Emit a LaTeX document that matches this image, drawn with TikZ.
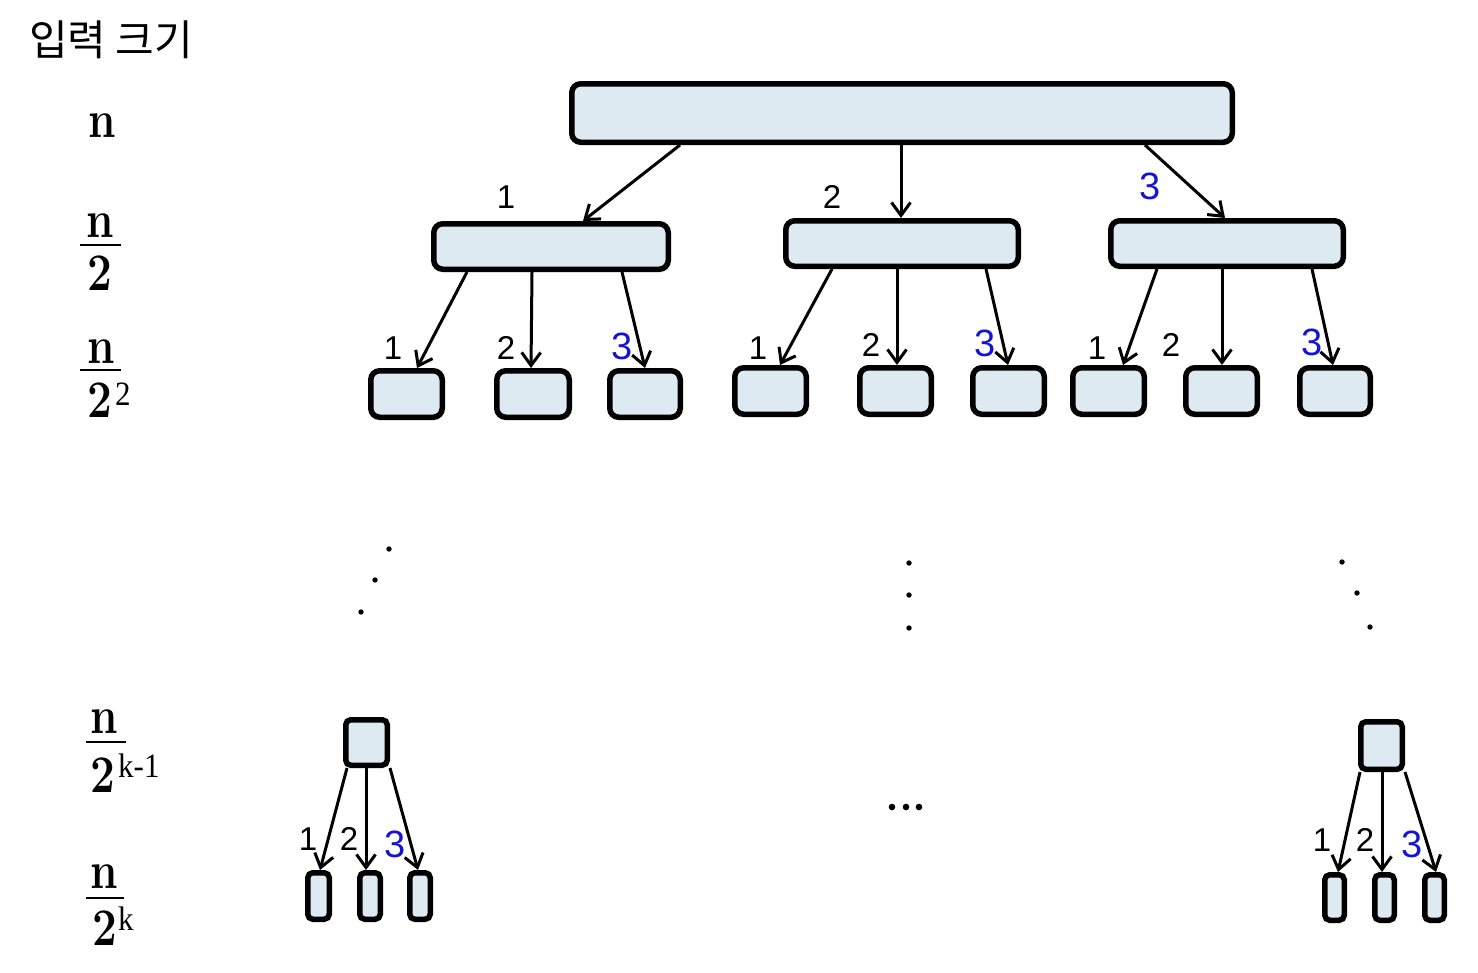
\documentclass[tikz,border=0pt]{standalone}
\usepackage{fontspec}
\usepackage{graphicx}
\newfontfamily\krfont{Noto Sans CJK KR}
\newfontfamily\numfont{Liberation Sans}
\newfontfamily\supfont{Liberation Serif}
\usetikzlibrary{arrows.meta}
\definecolor{boxfill}{RGB}{221,234,241}
\definecolor{numblue}{RGB}{20,20,215}
\newcommand{\mybox}[6][]{\node[bx, #1, minimum width={#5-#3-5.5}, minimum height={#6-#4-5.5}] (#2) at ({(#3+#5)/2},{(#4+#6)/2}) {};}
\newcommand{\mybigmath}[1]{\scalebox{1}[1.2]{\textbf{#1}}}
\newcommand{\mysupm}[1]{\scalebox{1}[1.1]{#1}}
\begin{document}
\begin{tikzpicture}[x=1pt,y=-1pt,
 bx/.style={draw=black, fill=boxfill, line width=5.5pt, rounded corners=9pt, inner sep=0pt},
 smallbx/.style={rounded corners=5pt},
 arr/.style={line width=3pt, -{Straight Barb[length=13pt,width=19pt,line width=3pt]}},
 numlbl/.style={font=\numfont\fontsize{33}{36}\selectfont, inner sep=0pt, text=black},
 bluelbl/.style={font=\numfont\fontsize{38}{42}\selectfont, inner sep=0pt, text=numblue},
 mlbl/.style={font=\fontsize{44}{50}\selectfont, inner sep=0pt, anchor=base},
 slbl/.style={font=\supfont\fontsize{31}{34}\selectfont, inner sep=0pt, anchor=base west},
 fbar/.style={line width=2.2pt},
 dotst/.style={fill=black}]
\useasboundingbox (0,0) rectangle (1478,972);

% title
\node[font=\krfont\fontsize{42}{48}\selectfont, inner sep=0pt] (title) at (111,40) {입력 크기};

% left size labels
\node[mlbl] (s0) at (102,137) {\mybigmath{n}};

\node[mlbl] (s1n) at (100,237) {\mybigmath{n}};
\draw[fbar] (80,245) -- (121,245);
\node[mlbl] (s1d) at (100,290) {\mybigmath{2}};

\node[mlbl] (s2n) at (101,363) {\mybigmath{n}};
\draw[fbar] (80,370) -- (121,370);
\node[mlbl] (s2d) at (100,417) {\mybigmath{2}};
\node[slbl] (s2e) at (115,405) {\mysupm{2}};

\node[mlbl] (s3n) at (104,733) {\mybigmath{n}};
\draw[fbar] (86,742) -- (126,742);
\node[mlbl] (s3d) at (103,792) {\mybigmath{2}};
\node[slbl] (s3e) at (118,777) {\mysupm{k-1}};

\node[mlbl] (s4n) at (104,888) {\mybigmath{n}};
\draw[fbar] (86,898) -- (124,898);
\node[mlbl] (s4d) at (105,945) {\mybigmath{2}};
\node[slbl] (s4e) at (118,930) {\mysupm{k}};

% boxes
\mybox{r}{569}{81}{1235}{145}
\mybox{A}{431}{221}{671}{272}
\mybox{B}{783}{218}{1021}{269}
\mybox{C}{1108}{218}{1346}{269}
\mybox{a1}{368}{368}{445}{420}
\mybox{a2}{494}{368}{572}{420}
\mybox{a3}{607}{368}{683}{420}
\mybox{b1}{732}{365}{809}{417}
\mybox{b2}{857}{365}{934}{417}
\mybox{b3}{970}{365}{1047}{417}
\mybox{c1}{1070}{365}{1147}{417}
\mybox{c2}{1183}{365}{1260}{417}
\mybox{c3}{1297}{365}{1373}{417}
\mybox[smallbx]{L}{343}{717}{390}{768}
\mybox[smallbx]{l1}{305}{870}{332}{922}
\mybox[smallbx]{l2}{357}{870}{383}{922}
\mybox[smallbx]{l3}{407}{870}{433}{922}
\mybox[smallbx]{R}{1358}{719}{1405}{772}
\mybox[smallbx]{r1}{1322}{872}{1347}{923}
\mybox[smallbx]{r2}{1372}{872}{1397}{923}
\mybox[smallbx]{r3}{1422}{872}{1447}{923}

% arrows
\draw[arr] ([xshift=111pt]r.south west) -- ([xshift=152pt]A.north west);
\draw[arr] ([xshift=332pt]r.south west) -- ([xshift=118pt]B.north west);
\draw[arr] ([xshift=576pt]r.south west) -- ([xshift=117pt]C.north west);

\draw[arr] ([xshift=36pt]A.south west) -- ([xshift=49pt]a1.north west);
\draw[arr] ([xshift=101pt]A.south west) -- ([xshift=37pt]a2.north west);
\draw[arr] ([xshift=191pt]A.south west) -- ([xshift=38pt]a3.north west);

\draw[arr] ([xshift=49pt]B.south west) -- ([xshift=48pt]b1.north west);
\draw[arr] ([xshift=114pt]B.south west) -- ([xshift=40pt]b2.north west);
\draw[arr] ([xshift=203pt]B.south west) -- ([xshift=38pt]b3.north west);

\draw[arr] ([xshift=49pt]C.south west) -- ([xshift=53pt]c1.north west);
\draw[arr] ([xshift=114pt]C.south west) -- ([xshift=39pt]c2.north west);
\draw[arr] ([xshift=204pt]C.south west) -- ([xshift=36pt]c3.north west);

\draw[arr] ([xshift=4pt]L.south west) -- ([xshift=15pt]l1.north west);
\draw[arr] ([xshift=23pt]L.south west) -- ([xshift=9pt]l2.north west);
\draw[arr] ([xshift=47pt]L.south west) -- ([xshift=11pt]l3.north west);

\draw[arr] ([xshift=2pt]R.south west) -- ([xshift=16pt]r1.north west);
\draw[arr] ([xshift=24pt]R.south west) -- ([xshift=10pt]r2.north west);
\draw[arr] ([xshift=47pt]R.south west) -- ([xshift=14pt]r3.north west);

% arrow labels
\node[numlbl] (t1) at (506,197) {1};
\node[numlbl] (t2) at (832,197) {2};
\node[bluelbl] (t3) at (1150,186) {3};

\node[numlbl] (ta1) at (393,348) {1};
\node[numlbl] (ta2) at (506,348) {2};
\node[bluelbl] (ta3) at (622,346) {3};

\node[numlbl] (tb1) at (758,348) {1};
\node[numlbl] (tb2) at (871,345) {2};
\node[bluelbl] (tb3) at (985,343) {3};

\node[numlbl] (tc1) at (1097,348) {1};
\node[numlbl] (tc2) at (1171,345) {2};
\node[bluelbl] (tc3) at (1312,342) {3};

\node[numlbl] (tl1) at (308,839) {1};
\node[numlbl] (tl2) at (349,839) {2};
\node[bluelbl] (tl3) at (395,844) {3};

\node[numlbl] (tr1) at (1322,840) {1};
\node[numlbl] (tr2) at (1365,840) {2};
\node[bluelbl] (tr3) at (1412,844) {3};

% vertical dots
\fill[dotst] (389,549) circle (2.7);
\fill[dotst] (375,580) circle (2.7);
\fill[dotst] (361,612) circle (2.7);
\fill[dotst] (909,563) circle (2.7);
\fill[dotst] (909,595) circle (2.7);
\fill[dotst] (909,628) circle (2.7);
\fill[dotst] (1342,562) circle (2.7);
\fill[dotst] (1357,593) circle (2.7);
\fill[dotst] (1370,627) circle (2.7);
% horizontal ellipsis
\fill[dotst] (892,807) circle (3.3);
\fill[dotst] (906,807) circle (3.3);
\fill[dotst] (919,807) circle (3.3);
\end{tikzpicture}
\end{document}
